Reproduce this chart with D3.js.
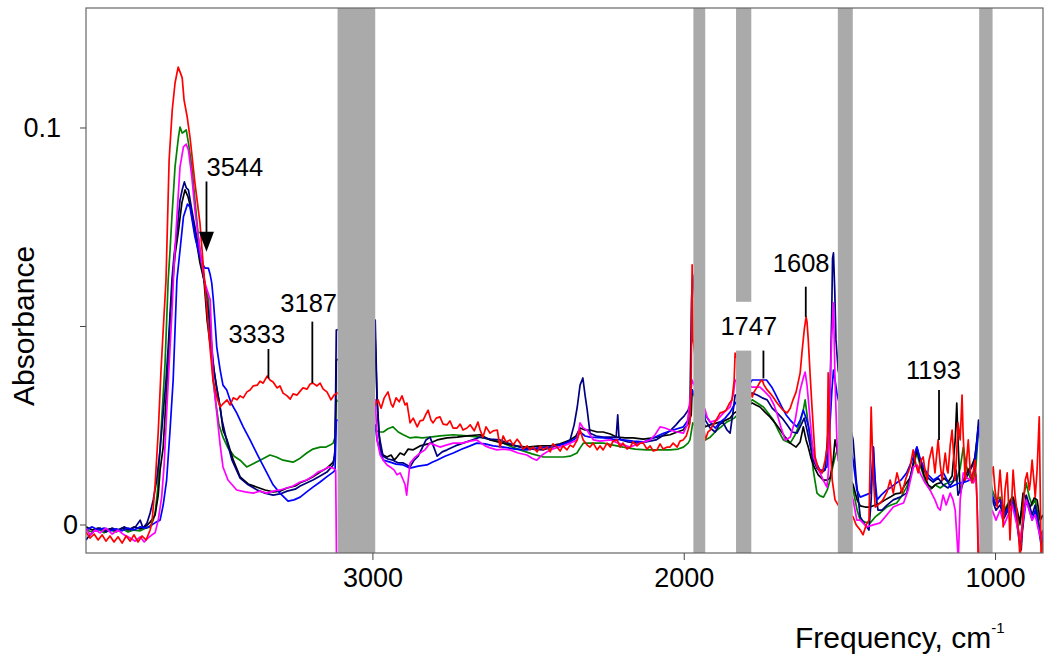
<!DOCTYPE html>
<html><head><meta charset="utf-8">
<script src="https://cdn.jsdelivr.net/npm/d3@7"></script>
<style>body{margin:0;background:#fff;} svg{display:block;font-family:"Liberation Sans",Arial,sans-serif;}</style>
</head><body><svg id="c" width="1050" height="660"></svg>
<script>
// ---------- data ----------
const xTicks = [3000, 2000, 1000];
const yTicks = [0, 0.05, 0.1];
const yTickLabels = ["0", "", "0.1"];
const bands = [[3112, 2991], [1969, 1931], [1832, 1783], [1505, 1457], [1051, 1008]];
const band3Gap = [0.0438, 0.0561];
const annLabels = ["3544", "3333", "3187", "1747", "1608", "1193"];
const annFreq   = [3533, 3334, 3193, 1744, 1608, 1180];
const annTop    = [0.0864, 0.0442, 0.0511, 0.0438, 0.0599, 0.0339];
const annBottom = [0.0687, 0.0368, 0.0356, 0.0368, 0.0523, 0.0213];
const annText   = [0.0879, 0.0456, 0.0536, 0.0477, 0.0635, 0.0367];

const redData = [[3920,-0.0019],[3907,-0.0034],[3894,-0.0024],[3881,-0.0039],[3868,-0.0026],[3856,-0.0042],[3843,-0.0029],[3830,-0.0044],[3817,-0.0031],[3804,-0.0047],[3791,-0.0029],[3778,-0.0042],[3766,-0.0026],[3753,-0.0044],[3740,-0.0029],[3727,-0.0039],[3714,-0.0014],[3708,0.0006],[3698,0.0100],[3688,0.0233],[3679,0.0389],[3672,0.0490],[3663,0.0616],[3653,0.0918],[3643,0.1044],[3634,0.1112],[3624,0.1152],[3618,0.1140],[3611,0.1125],[3605,0.1069],[3595,0.1027],[3586,0.0976],[3570,0.0860],[3554,0.0760],[3544,0.0659],[3534,0.0566],[3521,0.0440],[3512,0.0364],[3499,0.0319],[3489,0.0296],[3480,0.0304],[3467,0.0314],[3457,0.0301],[3447,0.0319],[3435,0.0314],[3425,0.0324],[3415,0.0319],[3403,0.0334],[3393,0.0339],[3383,0.0349],[3370,0.0351],[3361,0.0361],[3351,0.0356],[3338,0.0374],[3329,0.0364],[3319,0.0359],[3306,0.0344],[3297,0.0349],[3287,0.0331],[3274,0.0324],[3264,0.0316],[3255,0.0329],[3242,0.0326],[3232,0.0336],[3223,0.0344],[3210,0.0341],[3200,0.0354],[3191,0.0356],[3178,0.0349],[3168,0.0356],[3158,0.0341],[3146,0.0334],[3133,0.0314],[3123,0.0326],[3113,0.0331],
[2991,0.0301],[2982,0.0314],[2972,0.0293],[2962,0.0319],[2950,0.0334],[2940,0.0304],[2934,0.0296],[2924,0.0319],[2914,0.0309],[2905,0.0324],[2895,0.0301],[2889,0.0306],[2879,0.0256],[2869,0.0268],[2856,0.0246],[2847,0.0261],[2837,0.0263],[2828,0.0278],[2821,0.0288],[2812,0.0263],[2805,0.0256],[2795,0.0268],[2783,0.0271],[2773,0.0253],[2760,0.0251],[2751,0.0261],[2741,0.0243],[2728,0.0243],[2718,0.0253],[2709,0.0238],[2696,0.0243],[2686,0.0251],[2673,0.0236],[2661,0.0258],[2654,0.0238],[2645,0.0220],[2635,0.0246],[2622,0.0230],[2612,0.0236],[2599,0.0238],[2590,0.0195],[2580,0.0223],[2571,0.0208],[2558,0.0213],[2548,0.0200],[2535,0.0215],[2526,0.0205],[2516,0.0190],[2503,0.0198],[2494,0.0188],[2484,0.0195],[2471,0.0183],[2461,0.0198],[2452,0.0188],[2439,0.0195],[2429,0.0183],[2420,0.0203],[2407,0.0195],[2397,0.0185],[2388,0.0198],[2375,0.0188],[2365,0.0200],[2355,0.0195],[2342,0.0213],[2333,0.0238],[2323,0.0213],[2310,0.0200],[2301,0.0195],[2291,0.0205],[2278,0.0188],[2269,0.0198],[2259,0.0188],[2246,0.0205],[2236,0.0195],[2227,0.0210],[2214,0.0213],[2204,0.0195],[2195,0.0205],[2182,0.0190],[2172,0.0195],[2163,0.0208],[2150,0.0198],[2140,0.0205],[2130,0.0205],[2118,0.0190],[2108,0.0198],[2098,0.0185],[2086,0.0188],[2076,0.0203],[2066,0.0190],[2053,0.0195],[2044,0.0195],[2034,0.0205],[2021,0.0195],[2012,0.0210],[2002,0.0213],[1992,0.0223],[1986,0.0238],[1980,0.0256],[1976,0.0364],[1973,0.0654],[1970,0.0465],
[1931,0.0213],[1922,0.0233],[1915,0.0238],[1906,0.0251],[1896,0.0263],[1883,0.0281],[1874,0.0283],[1864,0.0288],[1854,0.0304],[1845,0.0314],[1838,0.0364],[1835,0.0432],
[1780,0.0321],[1774,0.0334],[1764,0.0346],[1755,0.0359],[1748,0.0364],[1742,0.0351],[1732,0.0339],[1723,0.0331],[1713,0.0321],[1703,0.0309],[1690,0.0296],[1681,0.0288],[1668,0.0281],[1658,0.0293],[1649,0.0314],[1639,0.0334],[1633,0.0356],[1626,0.0382],[1620,0.0435],[1613,0.0490],[1607,0.0523],[1604,0.0510],[1600,0.0465],[1594,0.0377],[1588,0.0296],[1578,0.0170],[1568,0.0142],[1555,0.0130],[1546,0.0162],[1539,0.0195],[1536,0.0382],[1530,0.0213],[1523,0.0112],[1514,0.0062],[1504,0.0049],
[1456,0.0019],[1446,-0.0001],[1433,-0.0014],[1424,-0.0026],[1414,-0.0001],[1405,0.0011],[1398,0.0296],[1392,0.0137],[1385,0.0044],[1369,0.0054],[1360,0.0062],[1347,0.0082],[1337,0.0112],[1327,0.0079],[1315,0.0130],[1305,0.0100],[1299,0.0079],[1286,0.0117],[1273,0.0145],[1263,0.0188],[1254,0.0150],[1247,0.0130],[1238,0.0162],[1231,0.0170],[1225,0.0137],[1218,0.0112],[1212,0.0162],[1202,0.0195],[1193,0.0130],[1183,0.0213],[1176,0.0150],[1170,0.0112],[1160,0.0180],[1154,0.0137],[1151,0.0130],[1144,0.0200],[1138,0.0238],[1132,0.0162],[1128,0.0112],[1122,0.0200],[1119,0.0256],[1112,0.0213],[1106,0.0326],[1103,0.0238],[1096,0.0112],[1090,0.0175],[1086,0.0213],[1080,0.0137],[1074,0.0105],[1067,0.0150],[1064,0.0162],[1058,0.0062],[1054,-0.0089],
[1009,0.0137],[1006,0.0145],[1000,0.0087],[993,0.0044],[984,0.0137],[977,0.0062],[974,-0.0006],[968,0.0087],[961,0.0130],[955,0.0024],[952,-0.0039],[945,0.0087],[942,0.0137],[936,0.0074],[929,0.0029],[923,-0.0039],[920,-0.0089],[913,-0.0014],[910,0.0044],[903,0.0112],[897,0.0130],[890,0.0087],[887,0.0105],[881,0.0162],[874,0.0100],[871,0.0069],[865,0.0137],[858,0.0271],[852,-0.0089],[846,-0.0039]];

const blackData = [[3920,-0.0006],[3900,-0.0014],[3881,-0.0009],[3862,-0.0016],[3843,-0.0011],[3823,-0.0016],[3804,-0.0009],[3785,-0.0014],[3766,-0.0006],[3746,-0.0011],[3727,-0.0004],[3714,0.0006],[3704,0.0016],[3698,0.0024],[3688,0.0074],[3682,0.0137],[3672,0.0195],[3663,0.0314],[3656,0.0407],[3650,0.0515],[3641,0.0616],[3634,0.0679],[3624,0.0734],[3612,0.0810],[3602,0.0843],[3592,0.0825],[3586,0.0805],[3576,0.0760],[3566,0.0717],[3554,0.0659],[3541,0.0616],[3531,0.0515],[3521,0.0452],[3512,0.0407],[3502,0.0351],[3489,0.0296],[3480,0.0238],[3467,0.0213],[3447,0.0162],[3425,0.0120],[3399,0.0102],[3370,0.0094],[3345,0.0087],[3319,0.0082],[3297,0.0084],[3274,0.0092],[3248,0.0097],[3232,0.0105],[3210,0.0112],[3191,0.0120],[3168,0.0132],[3146,0.0142],[3126,0.0157],[3120,0.0175],[3116,0.0414],
[2991,0.0465],[2985,0.0314],[2975,0.0188],[2966,0.0175],[2953,0.0170],[2940,0.0175],[2930,0.0162],[2921,0.0170],[2911,0.0180],[2898,0.0175],[2885,0.0190],[2869,0.0188],[2847,0.0198],[2821,0.0203],[2792,0.0213],[2760,0.0218],[2728,0.0220],[2696,0.0223],[2654,0.0226],[2622,0.0213],[2580,0.0205],[2542,0.0198],[2503,0.0195],[2461,0.0198],[2429,0.0198],[2397,0.0203],[2365,0.0213],[2346,0.0223],[2333,0.0243],[2317,0.0238],[2301,0.0238],[2278,0.0233],[2259,0.0233],[2236,0.0228],[2214,0.0220],[2188,0.0218],[2163,0.0218],[2130,0.0215],[2098,0.0218],[2069,0.0223],[2044,0.0226],[2021,0.0233],[2002,0.0238],[1986,0.0253],[1976,0.0276],[1973,0.0339],
[1931,0.0246],[1915,0.0251],[1893,0.0256],[1870,0.0261],[1851,0.0268],[1838,0.0281],
[1780,0.0306],[1768,0.0301],[1755,0.0296],[1739,0.0283],[1723,0.0271],[1707,0.0256],[1690,0.0238],[1674,0.0220],[1658,0.0205],[1639,0.0195],[1626,0.0208],[1616,0.0246],[1607,0.0213],[1600,0.0195],[1591,0.0167],[1581,0.0145],[1568,0.0125],[1552,0.0112],[1539,0.0112],[1530,0.0117],[1520,0.0162],[1514,0.0213],[1507,0.0188],
[1456,0.0100],[1443,0.0062],[1433,0.0047],[1417,0.0044],[1401,0.0044],[1385,0.0049],[1369,0.0054],[1353,0.0062],[1337,0.0069],[1321,0.0077],[1305,0.0079],[1289,0.0100],[1273,0.0117],[1260,0.0162],[1250,0.0188],[1241,0.0157],[1228,0.0125],[1215,0.0100],[1202,0.0092],[1189,0.0102],[1176,0.0105],[1164,0.0117],[1151,0.0107],[1138,0.0122],[1128,0.0213],[1123,0.0306],[1119,0.0213],[1112,0.0079],[1099,0.0117],[1086,0.0137],[1074,0.0150],[1064,0.0170],[1054,0.0246],
[1009,0.0069],[997,0.0049],[984,0.0062],[971,0.0029],[958,0.0049],[942,0.0069],[929,0.0036],[920,0.0004],[910,0.0079],[897,0.0062],[887,0.0044],[874,0.0067],[865,0.0062],[855,0.0011],[846,0.0024]];

const navyData = [[3920,-0.0039],[3907,-0.0026],[3891,-0.0014],[3875,-0.0009],[3856,-0.0019],[3836,-0.0009],[3817,-0.0016],[3798,-0.0006],[3778,-0.0014],[3759,-0.0004],[3746,0.0011],[3737,-0.0009],[3724,0.0004],[3714,0.0029],[3704,0.0062],[3693,0.0112],[3682,0.0188],[3672,0.0281],[3663,0.0364],[3656,0.0447],[3644,0.0616],[3637,0.0679],[3628,0.0734],[3618,0.0817],[3611,0.0843],[3604,0.0863],[3598,0.0848],[3591,0.0843],[3580,0.0792],[3564,0.0724],[3548,0.0659],[3538,0.0603],[3528,0.0541],[3518,0.0465],[3509,0.0389],[3496,0.0326],[3483,0.0263],[3470,0.0218],[3451,0.0162],[3425,0.0117],[3399,0.0100],[3370,0.0087],[3345,0.0079],[3319,0.0074],[3297,0.0077],[3274,0.0084],[3248,0.0089],[3232,0.0097],[3210,0.0105],[3191,0.0112],[3168,0.0122],[3146,0.0132],[3126,0.0150],[3120,0.0188],[3116,0.0490],
[2991,0.0515],[2985,0.0314],[2979,0.0226],[2966,0.0172],[2950,0.0165],[2934,0.0162],[2917,0.0155],[2901,0.0155],[2889,0.0150],[2879,0.0145],[2866,0.0162],[2853,0.0172],[2840,0.0193],[2828,0.0213],[2815,0.0220],[2802,0.0193],[2792,0.0172],[2776,0.0183],[2760,0.0188],[2734,0.0198],[2709,0.0205],[2680,0.0213],[2654,0.0220],[2622,0.0215],[2590,0.0213],[2558,0.0203],[2526,0.0195],[2487,0.0190],[2452,0.0188],[2413,0.0198],[2381,0.0205],[2365,0.0213],[2352,0.0251],[2342,0.0296],[2333,0.0351],[2324,0.0369],[2317,0.0326],[2310,0.0288],[2301,0.0230],[2281,0.0223],[2259,0.0220],[2236,0.0220],[2217,0.0220],[2212,0.0276],[2208,0.0220],[2201,0.0213],[2179,0.0208],[2150,0.0205],[2121,0.0208],[2089,0.0213],[2063,0.0226],[2044,0.0236],[2025,0.0251],[2012,0.0263],[1999,0.0273],[1986,0.0288],[1980,0.0301],[1975,0.0566],[1971,0.0629],
[1931,0.0263],[1915,0.0243],[1899,0.0233],[1886,0.0251],[1874,0.0258],[1861,0.0238],[1851,0.0230],[1841,0.0288],[1835,0.0326],
[1780,0.0331],[1764,0.0326],[1748,0.0319],[1732,0.0314],[1716,0.0293],[1700,0.0281],[1684,0.0268],[1668,0.0251],[1652,0.0233],[1636,0.0230],[1623,0.0251],[1613,0.0268],[1604,0.0238],[1594,0.0200],[1584,0.0162],[1572,0.0142],[1559,0.0130],[1546,0.0137],[1536,0.0238],[1530,0.0339],[1525,0.0516],[1522,0.0671],[1519,0.0684],[1515,0.0591],[1511,0.0465],[1504,0.0389],
[1456,0.0213],[1446,0.0112],[1433,0.0019],[1417,-0.0001],[1405,-0.0014],[1398,0.0062],[1391,0.0195],[1385,0.0087],[1376,0.0036],[1363,0.0036],[1347,0.0049],[1327,0.0062],[1305,0.0069],[1284,0.0079],[1270,0.0125],[1260,0.0167],[1251,0.0195],[1241,0.0162],[1228,0.0137],[1215,0.0117],[1199,0.0107],[1183,0.0117],[1167,0.0100],[1151,0.0092],[1135,0.0107],[1125,0.0137],[1119,0.0074],[1106,0.0100],[1093,0.0117],[1080,0.0137],[1067,0.0157],[1058,0.0213],[1053,0.0263],
[1009,0.0062],[997,0.0036],[984,0.0049],[971,0.0016],[958,0.0036],[945,0.0062],[932,0.0024],[923,-0.0026],[916,-0.0064],[910,0.0011],[900,0.0074],[890,0.0049],[881,0.0024],[871,0.0049],[862,0.0011],[852,-0.0039],[846,-0.0014]];

const blueData = [[3920,-0.0014],[3900,-0.0006],[3881,-0.0014],[3862,-0.0009],[3843,-0.0016],[3823,-0.0011],[3804,-0.0016],[3785,-0.0009],[3766,-0.0014],[3746,-0.0006],[3727,-0.0009],[3708,-0.0001],[3695,0.0006],[3682,0.0011],[3672,0.0049],[3661,0.0112],[3650,0.0238],[3640,0.0364],[3634,0.0490],[3628,0.0616],[3618,0.0691],[3607,0.0775],[3594,0.0807],[3586,0.0800],[3570,0.0724],[3554,0.0674],[3544,0.0654],[3538,0.0646],[3527,0.0646],[3521,0.0629],[3516,0.0608],[3511,0.0566],[3505,0.0503],[3500,0.0447],[3489,0.0389],[3480,0.0351],[3468,0.0339],[3454,0.0306],[3436,0.0281],[3415,0.0246],[3393,0.0213],[3367,0.0172],[3339,0.0130],[3319,0.0100],[3297,0.0079],[3271,0.0059],[3252,0.0062],[3232,0.0069],[3211,0.0082],[3191,0.0094],[3168,0.0107],[3147,0.0120],[3126,0.0132],[3120,0.0137],[3116,0.0263],
[2991,0.0251],[2985,0.0213],[2975,0.0183],[2965,0.0162],[2943,0.0157],[2924,0.0152],[2901,0.0150],[2879,0.0142],[2853,0.0147],[2825,0.0150],[2808,0.0157],[2793,0.0162],[2767,0.0172],[2740,0.0180],[2712,0.0190],[2686,0.0198],[2665,0.0205],[2638,0.0203],[2612,0.0198],[2579,0.0195],[2542,0.0190],[2504,0.0188],[2468,0.0193],[2429,0.0195],[2397,0.0200],[2365,0.0208],[2346,0.0218],[2333,0.0233],[2317,0.0223],[2301,0.0220],[2258,0.0218],[2227,0.0215],[2194,0.0213],[2163,0.0210],[2130,0.0208],[2098,0.0218],[2065,0.0230],[2034,0.0238],[2001,0.0246],[1986,0.0263],[1980,0.0296],[1973,0.0339],
[1931,0.0276],[1915,0.0258],[1899,0.0243],[1883,0.0258],[1867,0.0268],[1851,0.0283],[1838,0.0301],
[1780,0.0364],[1768,0.0364],[1755,0.0364],[1734,0.0364],[1717,0.0346],[1707,0.0331],[1685,0.0296],[1671,0.0276],[1658,0.0263],[1637,0.0246],[1626,0.0263],[1616,0.0288],[1607,0.0268],[1599,0.0246],[1591,0.0213],[1583,0.0180],[1575,0.0155],[1562,0.0137],[1552,0.0137],[1540,0.0145],[1533,0.0213],[1524,0.0339],[1519,0.0389],[1514,0.0364],[1507,0.0326],
[1456,0.0162],[1444,0.0087],[1433,0.0069],[1417,0.0074],[1401,0.0079],[1395,0.0137],[1391,0.0195],[1385,0.0112],[1379,0.0062],[1366,0.0074],[1348,0.0087],[1334,0.0094],[1316,0.0105],[1302,0.0112],[1284,0.0130],[1270,0.0155],[1260,0.0175],[1251,0.0195],[1241,0.0167],[1230,0.0145],[1215,0.0125],[1198,0.0112],[1183,0.0120],[1166,0.0130],[1154,0.0112],[1144,0.0094],[1128,0.0100],[1112,0.0105],[1096,0.0107],[1080,0.0112],[1067,0.0137],[1058,0.0200],[1053,0.0246],
[1009,0.0074],[997,0.0049],[984,0.0062],[971,0.0024],[958,0.0042],[945,0.0062],[932,0.0016],[920,-0.0057],[910,-0.0001],[900,0.0062],[890,0.0036],[881,0.0011],[871,0.0036],[862,-0.0001],[852,-0.0052],[846,-0.0026]];

const greenData = [[3920,-0.0014],[3900,-0.0019],[3881,-0.0011],[3862,-0.0021],[3843,-0.0014],[3823,-0.0019],[3804,-0.0011],[3785,-0.0019],[3766,-0.0014],[3746,-0.0016],[3727,-0.0009],[3714,-0.0006],[3704,0.0011],[3698,0.0029],[3690,0.0087],[3682,0.0195],[3674,0.0301],[3666,0.0407],[3656,0.0616],[3650,0.0691],[3644,0.0775],[3634,0.0901],[3623,0.0976],[3618,0.1001],[3611,0.0986],[3607,0.0988],[3598,0.0994],[3591,0.0961],[3580,0.0901],[3570,0.0817],[3559,0.0724],[3543,0.0623],[3527,0.0566],[3518,0.0465],[3512,0.0364],[3502,0.0301],[3493,0.0251],[3480,0.0220],[3464,0.0193],[3444,0.0172],[3425,0.0162],[3404,0.0145],[3386,0.0152],[3361,0.0162],[3341,0.0170],[3329,0.0175],[3309,0.0170],[3287,0.0162],[3255,0.0157],[3232,0.0167],[3211,0.0180],[3191,0.0190],[3168,0.0195],[3149,0.0195],[3136,0.0200],[3126,0.0205],[3120,0.0220],[3116,0.0314],
[2991,0.0238],[2979,0.0233],[2965,0.0233],[2950,0.0241],[2934,0.0246],[2917,0.0233],[2901,0.0226],[2879,0.0218],[2860,0.0220],[2840,0.0218],[2815,0.0220],[2783,0.0223],[2740,0.0226],[2696,0.0223],[2654,0.0220],[2616,0.0213],[2579,0.0205],[2551,0.0195],[2526,0.0188],[2487,0.0178],[2451,0.0170],[2420,0.0170],[2386,0.0170],[2365,0.0172],[2343,0.0180],[2333,0.0193],[2322,0.0205],[2291,0.0205],[2258,0.0205],[2227,0.0200],[2194,0.0195],[2156,0.0190],[2119,0.0188],[2082,0.0188],[2044,0.0188],[2018,0.0190],[2001,0.0195],[1986,0.0205],[1980,0.0213],[1971,0.0256],
[1931,0.0213],[1915,0.0220],[1893,0.0238],[1880,0.0246],[1862,0.0258],[1848,0.0263],[1838,0.0268],
[1780,0.0314],[1764,0.0306],[1744,0.0296],[1729,0.0281],[1712,0.0263],[1697,0.0238],[1680,0.0213],[1658,0.0205],[1642,0.0226],[1626,0.0256],[1616,0.0288],[1610,0.0314],[1604,0.0276],[1594,0.0213],[1584,0.0137],[1572,0.0079],[1562,0.0072],[1551,0.0069],[1539,0.0087],[1530,0.0112],[1520,0.0150],[1514,0.0170],[1507,0.0188],
[1456,0.0087],[1443,0.0036],[1433,0.0011],[1417,0.0006],[1401,0.0004],[1385,0.0019],[1369,0.0029],[1348,0.0044],[1334,0.0049],[1316,0.0054],[1302,0.0069],[1284,0.0094],[1270,0.0125],[1260,0.0155],[1251,0.0180],[1241,0.0150],[1225,0.0112],[1209,0.0087],[1193,0.0100],[1176,0.0092],[1160,0.0102],[1144,0.0107],[1123,0.0112],[1112,0.0142],[1102,0.0195],[1093,0.0150],[1080,0.0117],[1069,0.0112],[1061,0.0150],[1053,0.0246],
[1009,0.0087],[997,0.0062],[984,0.0069],[971,0.0036],[958,0.0054],[945,0.0069],[932,0.0036],[920,-0.0001],[910,0.0062],[900,0.0105],[890,0.0069],[881,0.0049],[871,0.0062],[862,0.0024],[855,-0.0031],[846,-0.0014]];

const magentaData = [[3920,-0.0009],[3907,-0.0026],[3891,-0.0014],[3875,-0.0021],[3856,-0.0009],[3836,-0.0024],[3817,-0.0014],[3798,-0.0026],[3778,-0.0034],[3762,-0.0042],[3746,-0.0031],[3733,-0.0044],[3721,-0.0034],[3708,-0.0026],[3698,-0.0021],[3688,0.0011],[3677,0.0069],[3669,0.0150],[3661,0.0281],[3653,0.0402],[3644,0.0533],[3637,0.0654],[3628,0.0775],[3618,0.0901],[3607,0.0951],[3598,0.0958],[3591,0.0943],[3580,0.0875],[3570,0.0792],[3554,0.0691],[3538,0.0608],[3521,0.0566],[3512,0.0372],[3500,0.0281],[3489,0.0200],[3480,0.0145],[3464,0.0112],[3436,0.0087],[3409,0.0082],[3383,0.0079],[3361,0.0084],[3339,0.0079],[3319,0.0084],[3297,0.0087],[3275,0.0092],[3255,0.0097],[3232,0.0107],[3211,0.0112],[3191,0.0122],[3175,0.0132],[3158,0.0137],[3142,0.0145],[3126,0.0142],[3118,0.0137],[3115,-0.0120],
[2991,0.0314],[2985,0.0213],[2975,0.0175],[2965,0.0162],[2953,0.0150],[2943,0.0145],[2930,0.0137],[2921,0.0125],[2911,0.0130],[2901,0.0112],[2895,0.0100],[2890,0.0074],[2885,0.0112],[2879,0.0155],[2866,0.0167],[2847,0.0180],[2831,0.0188],[2815,0.0205],[2799,0.0200],[2783,0.0195],[2763,0.0200],[2740,0.0205],[2712,0.0205],[2686,0.0210],[2665,0.0213],[2638,0.0198],[2622,0.0193],[2600,0.0188],[2580,0.0190],[2558,0.0188],[2532,0.0180],[2504,0.0175],[2487,0.0167],[2472,0.0162],[2455,0.0175],[2429,0.0188],[2410,0.0193],[2386,0.0198],[2365,0.0205],[2343,0.0213],[2333,0.0256],[2323,0.0243],[2311,0.0238],[2290,0.0213],[2269,0.0210],[2236,0.0213],[2204,0.0203],[2172,0.0195],[2140,0.0205],[2108,0.0213],[2092,0.0226],[2076,0.0246],[2060,0.0243],[2044,0.0238],[2021,0.0233],[2001,0.0230],[1989,0.0251],[1980,0.0314],[1973,0.0364],
[1931,0.0288],[1925,0.0271],[1915,0.0258],[1893,0.0263],[1872,0.0281],[1851,0.0296],[1840,0.0331],[1835,0.0364],
[1780,0.0346],[1768,0.0346],[1755,0.0346],[1739,0.0334],[1723,0.0321],[1710,0.0301],[1701,0.0281],[1687,0.0243],[1674,0.0213],[1658,0.0220],[1642,0.0263],[1626,0.0339],[1616,0.0369],[1610,0.0384],[1604,0.0351],[1594,0.0263],[1583,0.0170],[1572,0.0147],[1562,0.0130],[1552,0.0112],[1540,0.0094],[1535,0.0137],[1530,0.0339],[1525,0.0465],[1519,0.0558],[1514,0.0364],[1508,0.0213],[1504,0.0162],
[1456,0.0062],[1444,0.0011],[1433,0.0011],[1412,-0.0006],[1391,-0.0001],[1369,0.0004],[1348,0.0024],[1327,0.0044],[1312,0.0049],[1294,0.0054],[1279,0.0087],[1262,0.0145],[1250,0.0150],[1241,0.0130],[1225,0.0105],[1209,0.0087],[1193,0.0062],[1183,0.0042],[1176,0.0036],[1167,0.0074],[1157,0.0049],[1144,0.0079],[1135,0.0062],[1128,0.0036],[1122,-0.0039],[1118,-0.0089],[1112,0.0062],[1102,0.0130],[1090,0.0117],[1080,0.0112],[1069,0.0105],[1061,0.0125],[1056,0.0011],[1053,-0.0089],
[1009,0.0036],[997,0.0011],[984,0.0036],[971,-0.0001],[958,0.0024],[945,0.0049],[932,0.0006],[920,-0.0039],[910,0.0011],[900,0.0062],[890,0.0036],[881,0.0011],[871,0.0024],[862,-0.0009],[852,-0.0039],[846,-0.0014]];

const seriesList = [greenData, blackData, navyData, blueData, magentaData, redData];
const seriesColors = ["#008000", "#000000", "#000080", "#0000ff", "#ff00ff", "#ff0000"];

// ---------- chart ----------
const svg = d3.select("#c");
const L = 86, R = 1043, T = 8, B = 553;
const x = d3.scaleLinear().domain([3920, 846]).range([L, R]);
const y = d3.scaleLinear().domain([-0.00718, 0.1301]).range([B, T]);

svg.append("defs").append("clipPath").attr("id", "clip")
  .append("rect").attr("x", L).attr("y", T).attr("width", R - L).attr("height", B - T);

const line = d3.line().x(d => x(d[0])).y(d => y(d[1]));
const gLines = svg.append("g").attr("clip-path", "url(#clip)");
seriesList.forEach((s, i) => {
  gLines.append("path").attr("d", line(s)).attr("fill", "none")
    .attr("stroke", seriesColors[i]).attr("stroke-width", 1.7).attr("stroke-linejoin", "round");
});

// gray bands
const gBands = svg.append("g").attr("fill", "#aaaaaa");
bands.forEach((b, i) => {
  const x0 = x(b[0]), x1 = x(b[1]);
  if (i === 2) {
    gBands.append("rect").attr("x", x0).attr("width", x1 - x0).attr("y", T).attr("height", y(band3Gap[1]) - T);
    gBands.append("rect").attr("x", x0).attr("width", x1 - x0).attr("y", y(band3Gap[0])).attr("height", B - y(band3Gap[0]));
  } else {
    gBands.append("rect").attr("x", x0).attr("width", x1 - x0).attr("y", T).attr("height", B - T);
  }
});

// frame
svg.append("rect").attr("x", L).attr("y", T).attr("width", R - L).attr("height", B - T)
  .attr("fill", "none").attr("stroke", "#666").attr("stroke-width", 1.2);

// x axis
const xAxis = svg.append("g").attr("transform", `translate(0,${B})`)
  .call(d3.axisBottom(x).tickValues(xTicks).tickSize(7).tickPadding(8).tickFormat(d3.format("d")));
xAxis.select(".domain").remove();
xAxis.selectAll("line").attr("stroke", "#444");
xAxis.selectAll("text").attr("font-size", 27).attr("fill", "#000").attr("font-family", "Liberation Sans, Arial, sans-serif");

// y axis
const yAxis = svg.append("g").attr("transform", `translate(${L},0)`)
  .call(d3.axisLeft(y).tickValues(yTicks).tickSize(6).tickFormat((d, i) => yTickLabels[i]));
yAxis.select(".domain").remove();
yAxis.selectAll("line").attr("stroke", "#444");
yAxis.selectAll("text").attr("font-size", 27).attr("fill", "#000")
  .attr("font-family", "Liberation Sans, Arial, sans-serif")
  .attr("x", (d, i) => i === 2 ? -25 : -8).attr("dy", "0.34em");

// axis titles
svg.append("text").attr("transform", `translate(34,${y(0.05)}) rotate(-90)`)
  .attr("text-anchor", "middle").attr("font-size", 30).text("Absorbance");
const xt = svg.append("text").attr("x", 795).attr("y", 648).attr("font-size", 30);
xt.append("tspan").text("Frequency, cm");
xt.append("tspan").attr("font-size", 15).attr("dy", -15).text("-1");

// annotations
const gAnn = svg.append("g");
const dxs = [0, -40, -32, -43, -33, -33];
annLabels.forEach((lab, i) => {
  const xx = x(annFreq[i]);
  if (i === 0) {
    const tip = y(annBottom[i]);
    gAnn.append("line").attr("x1", xx).attr("x2", xx).attr("y1", y(annTop[i])).attr("y2", tip - 18)
      .attr("stroke", "#000").attr("stroke-width", 1.8);
    gAnn.append("path").attr("d", `M${xx - 7.5},${tip - 20} L${xx + 7.5},${tip - 20} L${xx},${tip} Z`).attr("fill", "#000");
  } else {
    gAnn.append("line").attr("x1", xx).attr("x2", xx).attr("y1", y(annTop[i])).attr("y2", y(annBottom[i]))
      .attr("stroke", "#000").attr("stroke-width", 1.8);
  }
  gAnn.append("text").attr("x", xx + dxs[i]).attr("y", y(annText[i])).attr("font-size", 25.5).text(lab);
});
</script></body></html>
